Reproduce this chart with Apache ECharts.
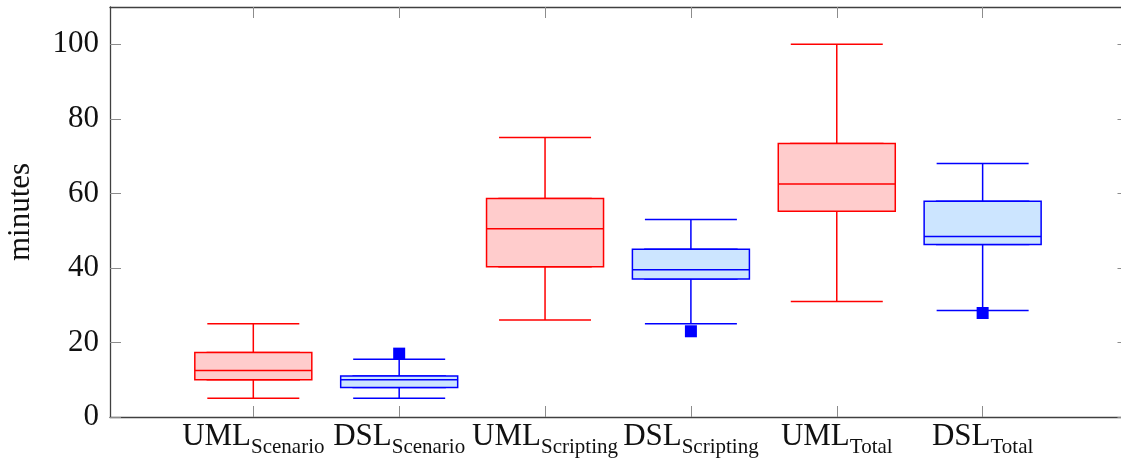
<!DOCTYPE html>
<html>
<head>
<meta charset="utf-8">
<script src="https://cdn.jsdelivr.net/npm/echarts@6/dist/echarts.min.js"></script>
<style>
  html, body { margin: 0; padding: 0; background: #fff; }
  #chart { width: 1121px; height: 461px; }
</style>
</head>
<body>
<div id="chart"></div>
<script>
// x positions of the boxes and their labels (main text + subscript)
const positions = [1, 2, 3, 4, 5, 6]
const labelMain = ['UML', 'DSL', 'UML', 'DSL', 'UML', 'DSL']
const labelSub = ['Scenario', 'Scenario', 'Scripting', 'Scripting', 'Total', 'Total']

// five-number summaries (minutes)
const whiskerLow = [5, 5, 26, 25, 31, 28.6]
const quartileLow = [10, 7.9, 40.3, 37, 55.2, 46.3]
const median = [12.5, 10, 50.5, 39.5, 62.5, 48.4]
const quartileHigh = [17.3, 11, 58.6, 45, 73.4, 57.9]
const whiskerHigh = [25, 15.5, 75, 53, 100, 68]

// outliers
const outlierPos = [2, 4, 6]
const outlierVal = [17, 23, 27.9]

const yTicks = [0, 20, 40, 60, 80, 100]

const FONT = 'Liberation Serif'
const strokeColors = ['#ff0000', '#0000ff']
const fillColors = ['#ffcccc', '#cce5ff']

// whiskers: full summary, drawn with narrower caps
let whiskerData = positions.map((p, i) => ({
  value: [p, whiskerLow[i], quartileLow[i], median[i], quartileHigh[i], whiskerHigh[i]],
  itemStyle: { color: fillColors[i % 2], borderColor: strokeColors[i % 2] }
}))
// boxes: quartiles only, wider, drawn on top
let boxData = positions.map((p, i) => ({
  value: [p, quartileLow[i], quartileLow[i], median[i], quartileHigh[i], quartileHigh[i]],
  itemStyle: { color: fillColors[i % 2], borderColor: strokeColors[i % 2] }
}))
let outlierData = outlierPos.map((p, i) => [p, outlierVal[i]])

let xBase = {
  type: 'value',
  min: 0.0175,
  max: 7,
  splitLine: { show: false },
  axisLine: { show: true, onZero: false, lineStyle: { color: '#404040', width: 1.3 } },
  axisTick: { show: true, inside: true, length: 11, customValues: positions, lineStyle: { color: '#8c8c8c', width: 1 } }
}
let yBase = {
  type: 'value',
  min: 0,
  max: 110,
  splitLine: { show: false },
  axisLine: { show: true, lineStyle: { color: '#404040', width: 1.3 } },
  axisTick: { show: true, inside: true, length: 11, customValues: yTicks, lineStyle: { color: '#8c8c8c', width: 1 } }
}

let option = {
  animation: false,
  backgroundColor: '#fff',
  grid: { left: 110, top: 7, width: 1018.5, bottom: 44, containLabel: false, outerBoundsMode: 'none' },
  xAxis: [
    Object.assign({}, xBase, {
      position: 'bottom',
      axisLabel: {
        show: true,
        customValues: positions,
        margin: 4,
        formatter: function (v) {
          let i = Math.round(v) - 1
          return '{a|' + labelMain[i] + '}{b|' + labelSub[i] + '}'
        },
        rich: {
          a: { fontFamily: FONT, fontSize: 31, lineHeight: 34, color: '#111', verticalAlign: 'top' },
          b: { fontFamily: FONT, fontSize: 21, lineHeight: 21, color: '#111', verticalAlign: 'top', padding: [16, 0, 0, 0] }
        }
      }
    }),
    Object.assign({}, xBase, { position: 'top', axisLabel: { show: false } })
  ],
  yAxis: [
    Object.assign({}, yBase, {
      position: 'left',
      name: 'minutes',
      nameLocation: 'middle',
      nameGap: 74,
      nameTextStyle: { fontFamily: FONT, fontSize: 31, color: '#111' },
      axisLabel: { show: true, customValues: yTicks, margin: 11, fontFamily: FONT, fontSize: 31, color: '#111' }
    }),
    Object.assign({}, yBase, { position: 'right', axisLabel: { show: false } })
  ],
  series: [
    {
      name: 'whiskers',
      type: 'boxplot',
      xAxisIndex: 0,
      yAxisIndex: 0,
      boxWidth: [92, 92],
      itemStyle: { borderWidth: 1.5 },
      z: 2,
      data: whiskerData
    },
    {
      name: 'boxes',
      type: 'boxplot',
      xAxisIndex: 1,
      yAxisIndex: 0,
      boxWidth: [117, 117],
      itemStyle: { borderWidth: 1.5 },
      z: 3,
      data: boxData
    },
    {
      name: 'outliers',
      type: 'scatter',
      xAxisIndex: 0,
      yAxisIndex: 0,
      symbol: 'rect',
      symbolSize: 12,
      itemStyle: { color: '#0000ff', opacity: 1 },
      z: 4,
      data: outlierData
    }
  ]
}

let chart = echarts.init(document.getElementById('chart'), null, { renderer: 'canvas' })
chart.setOption(option)
</script>
</body>
</html>
